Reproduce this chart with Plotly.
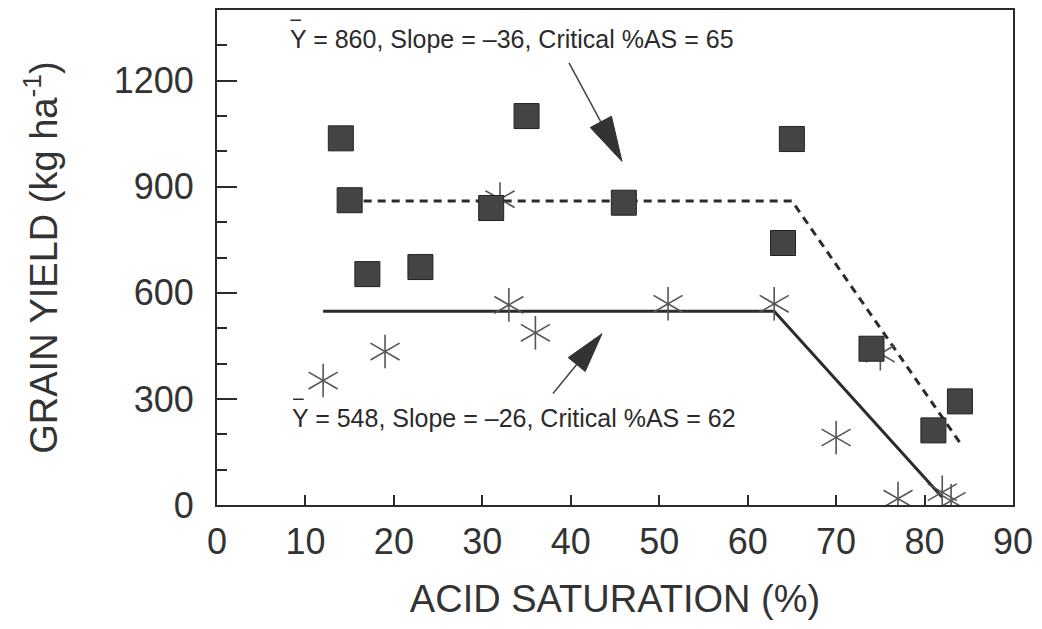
import plotly.graph_objects as go

# ---- data ----
sq_x = [14, 35, 65, 15, 31, 17, 23, 46, 64, 74, 84, 81]
sq_y = [1037, 1100, 1035, 862, 840, 653, 673, 855, 741, 442, 293, 211]

st_x = [12, 19, 33, 36, 32, 51, 63, 75, 70, 77, 82, 83]
st_y = [352, 434, 566, 487, 865, 569, 569, 428, 191, 18, 36, 12]

dash_x = [15, 65, 84]
dash_y = [860, 860, 176]
solid_x = [12, 63, 82]
solid_y = [548, 548, 22]

x_ticks = [0, 10, 20, 30, 40, 50, 60, 70, 80, 90]
y_ticks = [0, 300, 600, 900, 1200]
y_minor = [100, 200, 400, 500, 700, 800, 1000, 1100, 1300]

INK = "#2b2b2b"
FONT = "Liberation Sans, Arial, sans-serif"

fig = go.Figure()

fig.add_trace(go.Scatter(x=dash_x, y=dash_y, mode="lines",
                         line=dict(color=INK, width=3, dash="8px,6px"),
                         showlegend=False, hoverinfo="skip"))
fig.add_trace(go.Scatter(x=solid_x, y=solid_y, mode="lines",
                         line=dict(color=INK, width=3),
                         showlegend=False, hoverinfo="skip"))

for ang in (0, 60, 120):
    fig.add_trace(go.Scatter(x=st_x, y=st_y, mode="markers",
                             marker=dict(symbol="line-ns-open", size=24, angle=ang,
                                         color="#555555",
                                         line=dict(color="#555555", width=1.6)),
                             showlegend=False, hoverinfo="skip"))

fig.add_trace(go.Scatter(x=sq_x, y=sq_y, mode="markers",
                         marker=dict(symbol="square", size=25, color="#444444",
                                     line=dict(color="#222222", width=1)),
                         showlegend=False, hoverinfo="skip"))

# annotation texts
fig.add_annotation(x=8.0, y=1318, xref="x", yref="y", xanchor="left", yanchor="middle",
                   text="Y = 860, Slope = \u201336, Critical %AS = 65", showarrow=False,
                   font=dict(family=FONT, size=25, color=INK))
fig.add_annotation(x=8.3, y=247, xref="x", yref="y", xanchor="left", yanchor="middle",
                   text="Y = 548, Slope = \u201326, Critical %AS = 62", showarrow=False,
                   font=dict(family=FONT, size=25, color=INK))

shapes = []
# overbars on Y
shapes.append(dict(type="line", xref="x", yref="y", x0=8.3, x1=9.5, y0=1371, y1=1371,
                   line=dict(color=INK, width=1.5)))
shapes.append(dict(type="line", xref="x", yref="y", x0=8.6, x1=9.8, y0=299, y1=299,
                   line=dict(color=INK, width=1.5)))
# arrow shafts
shapes.append(dict(type="line", xref="x", yref="y", x0=39.80, y0=1250.7, x1=43.40, y1=1083.7,
                   line=dict(color="#444444", width=1.5)))
shapes.append(dict(type="line", xref="x", yref="y", x0=37.99, y0=315.5, x1=40.67, y1=397.2,
                   line=dict(color="#444444", width=1.5)))
# arrow heads
shapes.append(dict(type="path", xref="x", yref="y",
                   path="M 45.79 971.8 L 44.60 1099.7 L 42.20 1067.6 Z",
                   fillcolor="#333333", line=dict(color="#333333", width=1)))
shapes.append(dict(type="path", xref="x", yref="y",
                   path="M 43.53 484.5 L 41.63 377.5 L 39.71 416.9 Z",
                   fillcolor="#333333", line=dict(color="#333333", width=1)))

fig.update_layout(
    width=1042, height=629,
    margin=dict(l=217, r=29, t=8, b=124),
    paper_bgcolor="white", plot_bgcolor="white",
    shapes=shapes,
    xaxis=dict(range=[0, 90], tickvals=x_ticks, ticks="inside", ticklen=10, tickwidth=1.5,
               tickcolor=INK, showline=True, linecolor=INK, linewidth=2, mirror=True,
               showgrid=False, zeroline=False, ticklabelstandoff=4,
               tickfont=dict(family=FONT, size=36, color="#333333"),
               title=dict(text="ACID SATURATION (%)", standoff=24,
                          font=dict(family=FONT, size=38, color="#333333"))),
    yaxis=dict(range=[0, 1400], tickvals=y_ticks, ticks="inside", ticklen=20, tickwidth=1.5,
               tickcolor=INK, showline=True, linecolor=INK, linewidth=2, mirror=True,
               showgrid=False, zeroline=False,
               minor=dict(tickvals=y_minor, ticks="inside", ticklen=10, tickwidth=1.5,
                          tickcolor=INK),
               ticklabelstandoff=14,
               tickfont=dict(family=FONT, size=36, color="#333333"),
               title=dict(text="GRAIN YIELD (kg ha<sup>-1</sup>)", standoff=44,
                          font=dict(family=FONT, size=38, color="#333333"))),
)

fig.write_html("out.html")
